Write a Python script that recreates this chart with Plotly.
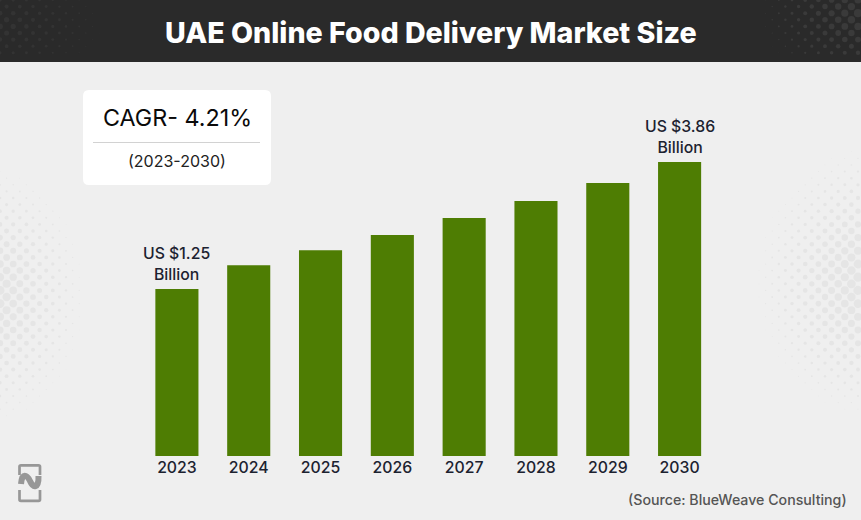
import plotly.graph_objects as go

W, H = 861, 520

# Chart data (US$ billion)
years = ["2023", "2024", "2025", "2026", "2027", "2028", "2029", "2030"]
market_size = [1.25, 1.74, 2.05, 2.36, 2.71, 3.06, 3.43, 3.86]
bar_labels = ["US $1.25<br>Billion", "", "", "", "", "", "", "US $3.86<br>Billion"]

title = "UAE Online Food Delivery Market Size"
cagr_text = "CAGR- 4.21%"
period_text = "(2023-2030)"
source_text = "(Source: BlueWeave Consulting)"

FONT = "Inter"
INK = "#1c2230"
LOGO = "#979797"
# the bars do not start at zero in the reference, they stand on this floor
AXIS_MIN = -2.18
AXIS_MAX = 5.917


def px(x):
    return x / W


def py(y):
    return 1 - y / H


def p(x, y):
    return f"{px(x)} {py(y)}"


def rect(x0, y0, x1, y1, color):
    return dict(type="rect", xref="paper", yref="paper", layer="below",
                x0=px(x0), y0=py(y0), x1=px(x1), y1=py(y1),
                fillcolor=color, line=dict(width=0))


def label(x, y, text, size, color, weight=400, xanchor="center"):
    return dict(xref="paper", yref="paper", x=px(x), y=py(y), text=text,
                showarrow=False, xanchor=xanchor, yanchor="middle",
                font=dict(family=FONT, size=size, color=color, weight=weight))


def rounded(x0, y0, x1, y1, r):
    """Rounded rectangle as an svg path in paper coordinates"""
    return (f"M {p(x0 + r, y0)} L {p(x1 - r, y0)} Q {p(x1, y0)} {p(x1, y0 + r)} "
            f"L {p(x1, y1 - r)} Q {p(x1, y1)} {p(x1 - r, y1)} L {p(x0 + r, y1)} "
            f"Q {p(x0, y1)} {p(x0, y1 - r)} L {p(x0, y0 + r)} Q {p(x0, y0)} {p(x0 + r, y0)} Z")


def halftone(cx, cy, rx, ry, biggest, color, clip):
    """Background dot texture, dots shrink with distance from (cx, cy)"""
    step = 6.6
    dots = []
    for i in range(132):
        for j in range(40):
            x = i * step
            y = j * 2 * step + (i % 2) * step
            if not (clip[0] <= x <= clip[2] and clip[1] <= y <= clip[3]):
                continue
            dist = (((x - cx) / rx) ** 2 + ((y - cy) / ry) ** 2) ** 0.5
            d = biggest * (1 - dist)
            if d < 0.6:
                continue
            r = d / 2
            dots.append(dict(type="circle", xref="paper", yref="paper", layer="below",
                             x0=px(x - r), x1=px(x + r), y0=py(y - r), y1=py(y + r),
                             fillcolor=color, line=dict(width=0)))
    return dots


def path_shape(d, color, width):
    return dict(type="path", xref="paper", yref="paper", path=d,
                line=dict(color=color, width=width), layer="below")


fig = go.Figure(go.Bar(
    x=years,
    y=[v - AXIS_MIN for v in market_size],  # y is the height above base
    base=AXIS_MIN,
    width=0.6,
    marker=dict(color="#4e7d03", line=dict(width=0)),
    hoverinfo="skip",
))

shapes = [rect(0, 0, W, 62, "#2a2a2a")]
shapes += halftone(0, 25, 115, 60, 6, "#333333", (0, 0, 120, 58))
shapes += halftone(868, 15, 115, 75, 9, "#3a3a3a", (740, 0, W, 58))
shapes += halftone(-10, 295, 100, 135, 10, "#e5e5e5", (0, 70, 110, 500))
shapes += halftone(878, 282, 128, 142, 11, "#e5e5e5", (700, 70, W, 500))
shapes += [
    dict(type="path", xref="paper", yref="paper", path=rounded(83, 90, 271, 185, 6),
         fillcolor="white", line=dict(width=0), layer="below"),
    dict(type="line", xref="paper", yref="paper", x0=px(93), x1=px(260), y0=py(142.5), y1=py(142.5),
         line=dict(color="#d2d2d2", width=1)),
    # logo, bottom left
    path_shape(f"M {p(19.5, 475)} L {p(19.5, 466.5)} Q {p(19.5, 465.3)} {p(21, 465.3)} L {p(38.5, 465.3)} "
               f"Q {p(40, 465.3)} {p(40, 466.5)} L {p(40, 475)}", LOGO, 2.7),
    path_shape(f"M {p(19.5, 490)} L {p(19.5, 499.5)} Q {p(19.5, 500.8)} {p(21, 500.8)} L {p(38.5, 500.8)} "
               f"Q {p(40, 500.8)} {p(40, 499.5)} L {p(40, 490)}", LOGO, 2.7),
    path_shape(f"M {p(21, 484)} C {p(22, 472)} {p(27, 475)} {p(30, 481)} "
               f"C {p(33, 488)} {p(39, 489)} {p(38.5, 476)}", LOGO, 6),
]

annotations = [
    label(430.5, 32, title, 28.6, "white", 800),
    label(177, 118, cagr_text, 23.3, "#0a0a0a"),
    label(177, 161, period_text, 16, "#222222"),
    label(849, 499, source_text, 14.2, "#555555", 500, xanchor="right"),
]
# numeric looking strings count as serial numbers here, so position by category index
for i, (value, text) in enumerate(zip(market_size, bar_labels)):
    if text:
        annotations.append(dict(xref="x", yref="y", x=i, y=value, text=text, showarrow=False,
                                yanchor="bottom", yshift=3,
                                font=dict(family=FONT, size=15.8, color=INK, weight=500)))

fig.update_layout(
    width=W, height=H, autosize=False,
    margin=dict(l=0, r=0, t=0, b=0),
    paper_bgcolor="#efefef",
    plot_bgcolor="rgba(0,0,0,0)",
    showlegend=False,
    shapes=shapes,
    annotations=annotations,
    xaxis=dict(domain=[px(141), px(715.5)], type="category", range=[-0.5, 7.5], showgrid=False,
               zeroline=False, showline=False, ticks="",
               tickfont=dict(family=FONT, size=15.8, color=INK, weight=500)),
    yaxis=dict(domain=[py(456), py(62)], range=[AXIS_MIN, AXIS_MAX], visible=False),
)

fig.write_html("out.html", config=dict(displayModeBar=False),
               post_script="document.body.style.margin = '0';")
